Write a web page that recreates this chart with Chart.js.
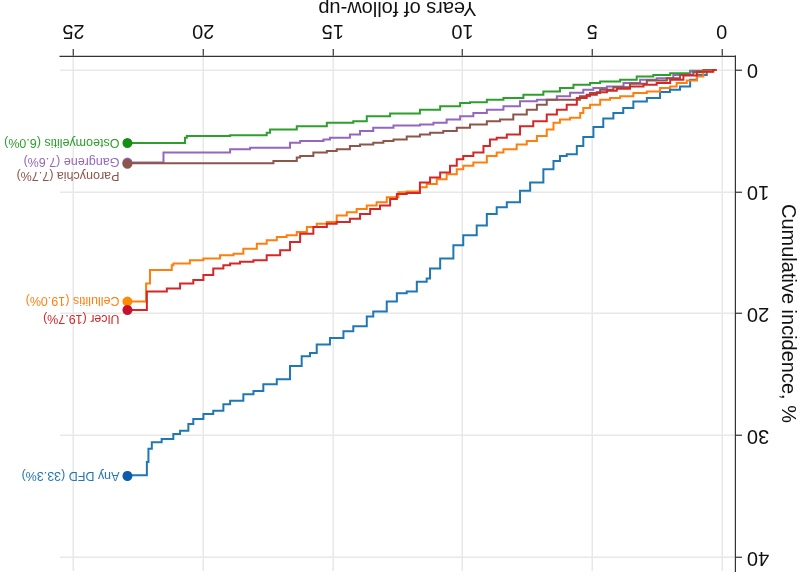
<!DOCTYPE html>
<html><head><meta charset="utf-8">
<script src="https://cdn.jsdelivr.net/npm/chart.js@4/dist/chart.umd.min.js"></script>
<style>
html,body{margin:0;padding:0;background:#fff;overflow:hidden}
#wrap{width:800px;height:576px;transform:rotate(180deg);transform-origin:400px 288px;background:#fff}
canvas{display:block}
</style></head><body>
<div id="wrap"><canvas id="c" width="800" height="576"></canvas></div>
<script>
// ---- data (years of follow-up, cumulative incidence %) ----
const xTicks = [0, 5, 10, 15, 20, 25];
const yTicks = [0, 10, 20, 30, 40];
const seriesNames = ['Any DFD', 'Ulcer', 'Cellulitis', 'Paronychia', 'Gangrene', 'Osteomyelitis'];
const finalPct = [33.3, 19.7, 19.0, 7.7, 7.6, 6.0];

const yearsAnyDFD = [0.2,0.58,0.96,1.22,1.61,2.0,2.38,2.89,3.41,3.80,4.18,4.57,4.95,5.34,5.59,5.98,6.24,6.49,6.88,7.39,7.78,8.29,8.68,9.06,9.45,9.97,10.35,10.86,11.25,11.38,11.76,12.15,12.53,12.92,13.44,13.69,14.21,14.59,15.11,15.62,15.88,16.2,16.65,17.16,17.68,18.06,18.45,18.96,19.22,19.61,19.99,20.38,20.57,20.89,21.15,21.6,21.98,22.11,22.17,22.92];
const incAnyDFD = [0,0.41,0.81,1.36,1.63,1.82,2.30,2.6,3.12,3.53,3.99,4.68,5.5,6.25,6.92,7.06,7.47,8.14,9.23,9.91,10.86,11.26,11.81,12.76,13.57,14.39,15.47,16.29,17.1,17.37,18.18,18.32,19.0,19.81,20.22,21.03,21.44,21.99,22.53,23.21,23.48,24.29,25.38,25.79,26.33,26.6,27.14,27.42,27.96,28.23,28.64,29.05,29.59,29.86,30.27,30.54,31.08,32.17,33.25,33.3];

const yearsUlcer = [0.2,0.34,0.96,1.48,1.99,2.51,3.02,3.54,4.05,4.43,4.82,5.21,5.59,5.98,6.36,6.75,7.27,7.78,8.29,8.68,8.94,9.19,9.58,9.97,10.22,10.48,10.86,11.25,11.64,12.15,12.53,12.79,13.18,13.56,13.95,14.34,14.85,15.23,15.75,16.26,16.65,17.03,17.55,18.06,18.58,18.96,19.22,19.61,19.99,20.38,20.89,21.4,22.17,22.92];
const incUlcer = [0,0.16,0.45,0.81,1.08,1.22,1.36,1.55,1.71,1.83,2.04,2.3,2.85,3.26,3.66,4.21,4.62,5.29,5.56,5.7,6.25,6.78,7.06,7.33,7.87,8.41,8.82,9.23,10.1,10.18,10.59,11.13,11.4,11.81,12.21,12.48,12.62,12.89,13.44,14.11,14.8,15.2,15.61,15.74,15.88,16.02,16.29,16.83,17.24,17.51,17.92,18.18,19.7,19.7];

const yearsCellulitis = [0.2,0.32,0.71,0.96,1.35,1.74,1.99,2.38,2.89,3.41,3.92,4.31,4.69,5.08,5.34,5.46,5.85,6.24,6.49,6.75,7.13,7.52,7.91,8.42,8.68,9.06,9.58,9.97,10.22,10.61,10.99,11.38,11.64,12.15,12.47,12.92,13.31,13.69,14.08,14.46,14.85,15.23,15.62,16.0,16.39,16.78,17.16,17.55,17.93,18.45,18.83,19.35,19.99,20.51,21.15,21.21,22.05,22.2,22.92];
const incCellulitis = [0,0.14,0.55,0.86,1.08,1.36,1.49,1.77,1.9,2.17,2.30,2.44,2.85,3.12,3.53,3.93,4.07,4.34,4.89,5.43,5.84,6.11,6.51,6.78,7.06,7.6,7.87,8.14,8.55,8.96,9.36,9.63,9.98,10.04,10.45,10.86,11.13,11.4,11.67,11.95,12.48,12.62,12.89,13.3,13.57,13.71,13.98,14.25,14.66,15.07,15.2,15.47,15.61,15.88,16.02,16.42,17.51,19.0,19.0];

const yearsParonychia = [0.22,0.71,1.1,1.61,2.12,2.89,3.54,4.18,4.69,5.08,5.47,6.75,7.13,7.52,8.04,8.55,9.06,9.71,10.22,10.74,11.25,11.64,12.15,12.66,13.05,13.44,13.95,14.34,14.85,15.23,15.75,16.26,16.39,17.29,22.92];
const incParonychia = [0,0.2,0.41,0.68,0.86,1.14,1.43,1.63,1.90,2.17,2.44,2.85,3.26,3.66,4.07,4.21,4.48,4.75,5.02,5.16,5.29,5.46,5.70,5.84,5.97,6.11,6.25,6.51,6.65,6.78,7.06,7.19,7.47,7.65,7.7];

const yearsGangrene = [0.22,0.58,1.22,1.87,2.51,3.15,3.79,4.43,4.95,5.34,5.85,6.36,7.13,7.78,8.42,9.06,9.58,10.09,10.61,11.12,11.64,12.66,13.44,13.95,14.34,15.11,15.36,16.26,16.65,18.19,18.96,21.53,22.92];
const incGangrene = [0,0.14,0.41,0.68,0.81,1.08,1.36,1.49,1.63,1.87,2.17,2.44,2.58,2.99,3.26,3.53,3.80,4.07,4.34,4.48,4.56,4.75,5.02,5.29,5.56,5.70,5.84,5.97,6.38,6.51,6.78,7.6,7.6];

const yearsOsteomyelitis = [0.22,0.58,1.22,1.99,2.64,3.28,3.92,4.69,5.08,5.72,6.24,6.88,7.65,8.42,9.06,9.71,10.09,10.86,11.64,12.79,13.69,14.21,15.23,16.39,17.42,17.55,18.96,20.63,20.7,22.92];
const incOsteomyelitis = [0,0.08,0.27,0.41,0.55,0.81,0.95,1.08,1.22,1.49,1.77,2.04,2.30,2.44,2.66,2.71,2.99,3.26,3.58,3.8,4.21,4.34,4.62,4.89,5.16,5.37,5.43,5.56,6.0,6.0];

// ---- styles ----
const FONT = "'Liberation Sans', Arial, Helvetica, sans-serif";
Chart.defaults.font.family = FONT;
const seriesYears = [yearsAnyDFD, yearsUlcer, yearsCellulitis, yearsParonychia, yearsGangrene, yearsOsteomyelitis];
const seriesInc = [incAnyDFD, incUlcer, incCellulitis, incParonychia, incGangrene, incOsteomyelitis];
const lineColors = ['#1f77b4', '#d62728', '#ff7f0e', '#8c564b', '#9467bd', '#2ca02c'];
const dotColors = ['#0b5cad', '#c8102e', '#ff8c00', '#8c564b', '#9467bd', '#138f13'];
const labelShift = [0, -8, 1, -11.5, 1, 1];
const drawOrder = [3, 0, 1, 2, 4, 5]; // lower = on top

const datasets = seriesNames.map((name, i) => {
  const n = seriesYears[i].length;
  return {
    label: name,
    data: seriesYears[i].map((t, k) => ({x: t, y: seriesInc[i][k]})),
    borderColor: lineColors[i],
    borderWidth: 2,
    stepped: true,
    fill: false,
    order: drawOrder[i],
    pointRadius: ctx => ctx.dataIndex === n - 1 ? 5 : 0,
    pointHoverRadius: 0,
    pointBackgroundColor: dotColors[i],
    pointBorderWidth: 0,
    pointBorderColor: dotColors[i]
  };
});

const endLabels = {
  id: 'endLabels',
  afterDatasetsDraw(chart) {
    const {ctx, scales: {x, y}} = chart;
    ctx.save();
    ctx.font = '12.5px ' + FONT;
    ctx.textAlign = 'left';
    ctx.textBaseline = 'middle';
    seriesNames.forEach((name, i) => {
      const n = seriesYears[i].length;
      const px = x.getPixelForValue(seriesYears[i][n - 1]) + 8;
      const py = y.getPixelForValue(seriesInc[i][n - 1]) + labelShift[i];
      ctx.fillStyle = lineColors[i];
      ctx.fillText(name + ' (' + finalPct[i].toFixed(1) + '%)', px, py);
    });
    ctx.restore();
  }
};

const gridStyle = {color: '#e8e8e8', lineWidth: 1.5, tickLength: 7, tickColor: '#333', tickWidth: 1.2};

new Chart(document.getElementById('c'), {
  type: 'line',
  data: {datasets},
  options: {
    responsive: false,
    animation: false,
    layout: {padding: {left: 0, right: 60, top: 1, bottom: 0}},
    plugins: {legend: {display: false}, tooltip: {enabled: false}},
    scales: {
      x: {
        type: 'linear', min: -0.51, max: 25.52,
        afterBuildTicks: s => { s.ticks = xTicks.map(v => ({value: v})); },
        afterFit: s => { s.height = 56; s.paddingLeft = 0; s.paddingRight = 0; },
        grid: gridStyle,
        border: {color: '#333', width: 1.2},
        ticks: {font: {size: 20}, color: '#111', padding: 6, maxRotation: 0, autoSkip: false},
        title: {display: true, text: 'Years of follow-up', color: '#111', font: {size: 20, lineHeight: 0.8}, padding: 0}
      },
      y: {
        type: 'linear', min: -1.14, max: 41.1,
        afterBuildTicks: s => { s.ticks = yTicks.map(v => ({value: v})); },
        afterFit: s => { s.width = 65; s.paddingTop = 0; s.paddingBottom = 0; },
        grid: gridStyle,
        border: {color: '#333', width: 1.2},
        ticks: {font: {size: 20}, color: '#111', padding: 5, autoSkip: false},
        title: {display: true, text: 'Cumulative incidence, %', color: '#111', font: {size: 20, lineHeight: 1.2}, padding: 0}
      }
    }
  },
  plugins: [endLabels]
});
</script>
</body></html>
